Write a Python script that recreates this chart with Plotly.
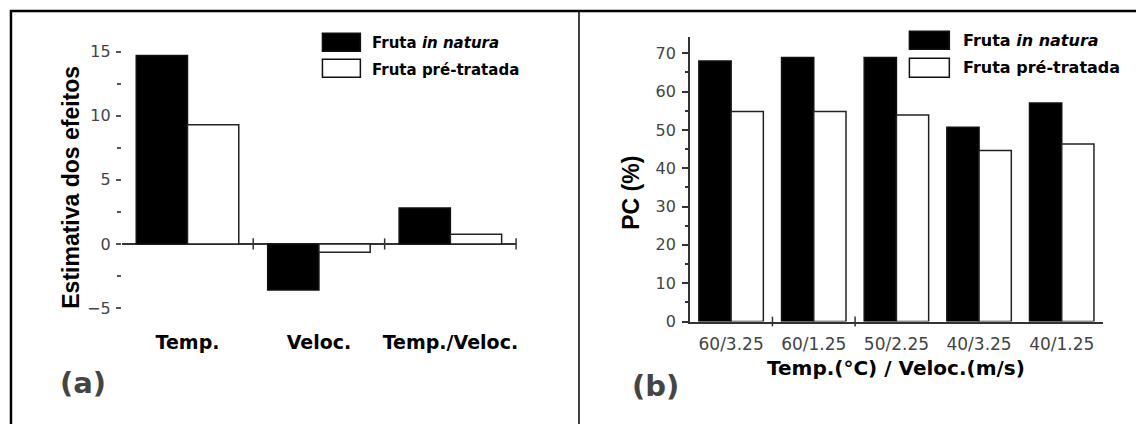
import plotly.graph_objects as go

W, H = 1138, 424          # target picture size
FIG_H = 436               # page height that the photo squeezes into 424 px

# ---------------- data ----------------
cats_a = ["Temp.", "Veloc.", "Temp./Veloc."]
natura_a = [14.7, -3.6, 2.8]
pretrat_a = [9.3, -0.65, 0.75]

cats_b = ["60/3.25", "60/1.25", "50/2.25", "40/3.25", "40/1.25"]
natura_b = [68.0, 68.9, 68.9, 50.7, 57.0]
pretrat_b = [54.8, 54.8, 53.9, 44.6, 46.3]

series_names = ["Fruta in natura", "Fruta pré-tratada"]
legend_labels = ["<b>Fruta <i>in natura</i></b>", "<b>Fruta pré-tratada</b>"]

# ---------------- helpers (picture pixel -> paper fraction) ----------------
def px(x):
    return x / W

def py(y):
    return 1 - y / H

DV = "DejaVu Sans"
LIB = "Liberation Sans"
AX = "#333333"

fig = go.Figure()

# panel (a) bars
xa = list(range(len(cats_a)))
fig.add_trace(go.Bar(x=xa, y=natura_a, name=series_names[0], xaxis="x", yaxis="y",
                     marker=dict(color="black", line=dict(color="#111", width=1.5))))
fig.add_trace(go.Bar(x=xa, y=pretrat_a, name=series_names[1], xaxis="x", yaxis="y",
                     marker=dict(color="white", line=dict(color="#222", width=1.5))))
# category separators on the zero line
sep_a = [i + 0.5 for i in xa]
fig.add_trace(go.Scatter(x=sep_a, y=[0] * len(sep_a), mode="markers", xaxis="x", yaxis="y",
                         cliponaxis=False, hoverinfo="skip",
                         marker=dict(symbol="line-ns-open", size=8, color=AX,
                                     line=dict(color=AX, width=1.5))))

# panel (b) bars
xb = list(range(len(cats_b)))
fig.add_trace(go.Bar(x=xb, y=natura_b, name=series_names[0], xaxis="x2", yaxis="y2",
                     marker=dict(color="black", line=dict(color="#111", width=1.5))))
fig.add_trace(go.Bar(x=xb, y=pretrat_b, name=series_names[1], xaxis="x2", yaxis="y2",
                     marker=dict(color="white", line=dict(color="#222", width=1.5))))
sep_b = [i + 0.5 for i in xb[:2]]
fig.add_trace(go.Scatter(x=sep_b, y=[0] * len(sep_b), mode="markers", xaxis="x2", yaxis="y2",
                         cliponaxis=False, hoverinfo="skip",
                         marker=dict(symbol="line-ns-open", size=7, color=AX,
                                     line=dict(color=AX, width=1.5))))

# ---------------- axes ----------------
a_left, a_right, a_top, a_bot = 122, 517, 40, 320
b_left, b_right, b_top, b_bot = 691, 1105, 37, 320

fig.update_layout(
    width=W, height=FIG_H, autosize=False,
    margin=dict(l=0, r=0, t=0, b=0),
    paper_bgcolor="white", plot_bgcolor="white",
    showlegend=False, barmode="group", bargap=0.22, bargroupgap=0,
    xaxis=dict(domain=[px(a_left), px(a_right)], anchor="y", range=[-0.5, 2.5],
               tickvals=xa, ticktext=cats_a, showline=False, showgrid=False,
               zeroline=False, ticks="", ticklabelstandoff=7,
               tickfont=dict(family=DV, size=19, color="black", weight="bold")),
    yaxis=dict(domain=[py(a_bot), py(a_top)], anchor="x", range=[-6.05, 15.9],
               tickvals=[-5, 0, 5, 10, 15], showline=False, showgrid=False,
               zeroline=True, zerolinecolor=AX, zerolinewidth=1.5,
               ticks="outside", ticklen=5, tickwidth=1.5, tickcolor="#555",
               ticklabelstandoff=2,
               minor=dict(tickvals=[-2.5, 2.5, 7.5, 12.5], ticks="outside", ticklen=4,
                          tickwidth=1.5, tickcolor="#555"),
               tickfont=dict(family=DV, size=16, color="#444")),
    xaxis2=dict(domain=[px(b_left), px(b_right)], anchor="y2", range=[-0.5, 4.5],
                tickvals=xb, ticktext=cats_b, showline=True, linecolor=AX, linewidth=1.5,
                showgrid=False, zeroline=False, ticks="", ticklabelstandoff=6,
                tickfont=dict(family=DV, size=17, color="#444")),
    yaxis2=dict(domain=[py(b_bot), py(b_top)], anchor="x2", range=[0, 74.2],
                dtick=10, tick0=0, showline=True, linecolor=AX, linewidth=1.5,
                showgrid=False, zeroline=False,
                ticks="outside", ticklen=6, tickwidth=1.5, tickcolor=AX,
                ticklabelstandoff=3,
                minor=dict(dtick=5, ticks="outside", ticklen=3, tickwidth=1.5, tickcolor=AX),
                tickfont=dict(family=DV, size=16, color="#444")),
)

# ---------------- frame ----------------
shapes = [
    dict(type="line", xref="paper", yref="paper", x0=px(10), x1=px(W), y0=py(11), y1=py(11),
         line=dict(color="black", width=2.5)),
    dict(type="line", xref="paper", yref="paper", x0=px(11), x1=px(11), y0=py(10), y1=py(H),
         line=dict(color="black", width=2.5)),
    dict(type="line", xref="paper", yref="paper", x0=px(580), x1=px(580), y0=py(11), y1=py(H),
         line=dict(color="black", width=1.5)),
]

# legend swatches
for (lx0, lx1, y_rows) in [(323, 361, [(33, 51), (59, 77)]), (911, 951, [(31, 49), (58, 77)])]:
    for k, (y0, y1) in enumerate(y_rows):
        shapes.append(dict(type="rect", xref="paper", yref="paper",
                           x0=px(lx0), x1=px(lx1), y0=py(y1), y1=py(y0),
                           fillcolor="black" if k == 0 else "white",
                           line=dict(color="#111", width=1.5)))
fig.update_layout(shapes=shapes)

ann = []
# legend text
for (tx, ys, fs) in [(371, [43, 70], 15), (963, [40, 67], 16)]:
    for k, yy in enumerate(ys):
        ann.append(dict(text=legend_labels[k], x=px(tx), y=py(yy), xref="paper", yref="paper",
                        xanchor="left", yanchor="middle", showarrow=False,
                        font=dict(family=DV, size=fs, color="black")))
# axis titles
ann.append(dict(text="<b>Estimativa dos efeitos</b>", x=px(71), y=py(186), xref="paper", yref="paper",
                textangle=-90, showarrow=False, xanchor="center", yanchor="middle",
                font=dict(family=LIB, size=23, color="black")))
ann.append(dict(text="<b>PC (%)</b>", x=px(632), y=py(192), xref="paper", yref="paper",
                textangle=-90, showarrow=False, xanchor="center", yanchor="middle",
                font=dict(family=LIB, size=23, color="black")))
ann.append(dict(text="<b>Temp.(°C) / Veloc.(m/s)</b>", x=px(898), y=py(366), xref="paper", yref="paper",
                showarrow=False, xanchor="center", yanchor="middle",
                font=dict(family=DV, size=20, color="black")))
# panel labels
ann.append(dict(text="<b>(a)</b>", x=px(83), y=py(381), xref="paper", yref="paper",
                showarrow=False, xanchor="center", yanchor="middle",
                font=dict(family=DV, size=29, color="#444")))
ann.append(dict(text="<b>(b)</b>", x=px(657), y=py(384), xref="paper", yref="paper",
                showarrow=False, xanchor="center", yanchor="middle",
                font=dict(family=DV, size=29, color="#444")))
fig.update_layout(annotations=ann)

fig.write_html("out.html", config=dict(displayModeBar=False, responsive=False),
               include_plotlyjs=True, full_html=True,
               post_script=("document.documentElement.style.margin='0';"
                            "document.documentElement.style.overflow='hidden';"
                            "document.body.style.margin='0';"
                            "document.body.style.overflow='hidden';"))
